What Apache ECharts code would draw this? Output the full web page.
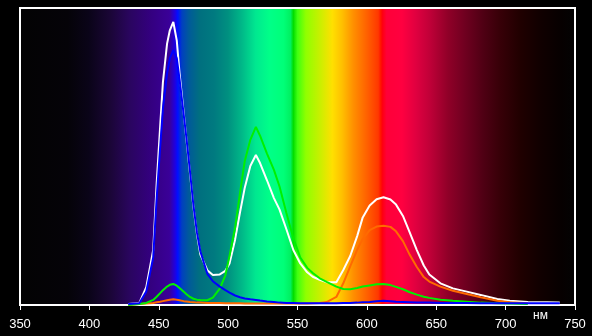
<!DOCTYPE html>
<html>
<head>
<meta charset="utf-8">
<script src="https://cdn.jsdelivr.net/npm/echarts@6/dist/echarts.min.js"></script>
<style>
html,body{margin:0;padding:0;background:#000;}
#chart{width:592px;height:336px;}
</style>
</head>
<body>
<div id="chart"></div>
<script>
// Wavelengths (nm) at which the curves were read
const wavelengths = [428,436,441,446,448.5,451,453,456,458,460.5,463,465,468,470,472.5,475,477.5,480,485,489,494,498,501,505,508.5,512,516,520,523,528,533,537,542,547,552,557,561,566,571,578,583,588,593,597,602,607,612,617,621,626,631,636,641,645,653,662,672,682,694,703,716,730,739];

const whiteValues = [0.003,0.007,0.06,0.185,0.41,0.6,0.75,0.88,0.925,0.953,0.89,0.78,0.645,0.556,0.444,0.33,0.24,0.17,0.117,0.101,0.103,0.115,0.14,0.22,0.31,0.395,0.468,0.505,0.478,0.42,0.36,0.322,0.255,0.185,0.14,0.11,0.095,0.085,0.077,0.077,0.118,0.165,0.232,0.295,0.335,0.356,0.363,0.355,0.338,0.3,0.243,0.185,0.133,0.103,0.073,0.056,0.045,0.034,0.02,0.014,0.01,0.009,0.008];

const greenValues = [0,0.003,0.007,0.017,0.028,0.04,0.05,0.062,0.068,0.071,0.065,0.057,0.045,0.036,0.027,0.021,0.018,0.017,0.016,0.025,0.055,0.1,0.165,0.26,0.375,0.485,0.556,0.6,0.57,0.51,0.455,0.4,0.31,0.225,0.16,0.125,0.108,0.09,0.078,0.062,0.054,0.053,0.057,0.062,0.066,0.07,0.071,0.067,0.061,0.053,0.043,0.035,0.028,0.024,0.018,0.014,0.011,0.008,0.006,0.005,0.003,null,null];

const orangeValues = [0,0.003,0.005,0.007,0.009,0.011,0.013,0.016,0.018,0.019,0.018,0.016,0.013,0.012,0.01,0.009,0.008,0.008,0.007,0.007,0.007,0.006,0.006,0.006,0.006,0.005,0.005,0.005,0.005,0.005,0.005,0.005,0.005,0.005,0.005,0.005,0.006,0.007,0.01,0.027,0.073,0.13,0.186,0.222,0.252,0.264,0.267,0.263,0.248,0.215,0.168,0.128,0.094,0.079,0.062,0.048,0.037,0.026,0.014,0.009,0.006,null,null];

const blueValues = [0.003,0.006,0.045,0.16,0.36,0.53,0.66,0.78,0.83,0.858,0.83,0.76,0.64,0.56,0.45,0.335,0.245,0.18,0.105,0.08,0.062,0.05,0.042,0.032,0.026,0.022,0.019,0.017,0.015,0.012,0.01,0.008,0.007,0.007,0.006,0.006,0.006,0.006,0.006,0.006,0.007,0.007,0.008,0.009,0.01,0.013,0.014,0.013,0.011,0.01,0.009,0.008,0.008,0.008,0.007,0.007,0.007,0.006,0.006,0.006,0.006,0.006,0.006];

const xTicks = [350,400,450,500,550,600,650,700,750];
const unitLabel = 'нм';

// Background spectrum colour stops: [wavelength, colour]
const spectrumStops = [
  [350,'#030303'],[385,'#050308'],[400,'#0a0418'],[415,'#1a0635'],[430,'#2a0560'],
  [445,'#340080'],[458,'#3a0098'],[462,'#2000e0'],[464,'#0010ff'],[467,'#0040c0'],
  [472,'#005a9a'],[480,'#00707f'],[490,'#007a80'],[500,'#009080'],[510,'#00b888'],
  [520,'#00e890'],[530,'#00ff88'],[540,'#00ff78'],[545,'#00f060'],[547,'#00dd00'],
  [550,'#40ff10'],[556,'#90ff00'],[566,'#c8f000'],[575,'#ffe000'],[582,'#ffc000'],
  [590,'#ff9000'],[600,'#ff6000'],[608,'#ff3800'],[610,'#ff1000'],[611,'#ff0010'],
  [614,'#ff0038'],[625,'#ff0040'],[635,'#e00040'],[645,'#c00038'],[658,'#900028'],
  [670,'#700020'],[683,'#500014'],[695,'#380008'],[710,'#200000'],[725,'#100000'],
  [740,'#060000'],[750,'#030303']
];

const xMin = xTicks[0], xMax = xTicks[xTicks.length-1];
const pairs = vals => wavelengths.map((w,i) => [w, vals[i]]);

const chart = echarts.init(document.getElementById('chart'), null, {renderer:'canvas'});
chart.setOption({
  backgroundColor: '#000',
  animation: false,
  grid: {
    left: 20, right: 17, top: 8, bottom: 31,
    show: true,
    borderColor: '#fff',
    borderWidth: 2,
    backgroundColor: new echarts.graphic.LinearGradient(0,0,1,0,
      spectrumStops.map(s => ({offset: (s[0]-xMin)/(xMax-xMin), color: s[1]})))
  },
  xAxis: {
    type: 'value', min: xMin, max: xMax, interval: 50,
    axisLine: {show: false},
    axisTick: {show: true, length: 5, inside: false, lineStyle: {color: '#fff', width: 1}},
    splitLine: {show: false},
    axisLabel: {color: '#fff', fontSize: 13, fontFamily: 'Liberation Sans, Arial, sans-serif', margin: 13,
      customValues: xTicks}
  },
  yAxis: {
    type: 'value', min: 0, max: 1, show: false, splitLine: {show: false}
  },
  graphic: [{
    type: 'text', left: 533, top: 310,
    style: {text: unitLabel, fill: '#fff', font: '12px Liberation Sans, Arial, sans-serif'}
  }],
  series: [
    {type:'line', data: pairs(whiteValues), showSymbol:false, lineStyle:{color:'#ffffff', width:2}, z:2},
    {type:'line', data: pairs(orangeValues), showSymbol:false, lineStyle:{color:'#ff6a00', width:2}, z:3},
    {type:'line', data: pairs(greenValues), showSymbol:false, lineStyle:{color:'#00f000', width:2}, z:4},
    {type:'line', data: pairs(blueValues), showSymbol:false, lineStyle:{color:'#0000ff', width:2}, z:5}
  ]
});
</script>
</body>
</html>
